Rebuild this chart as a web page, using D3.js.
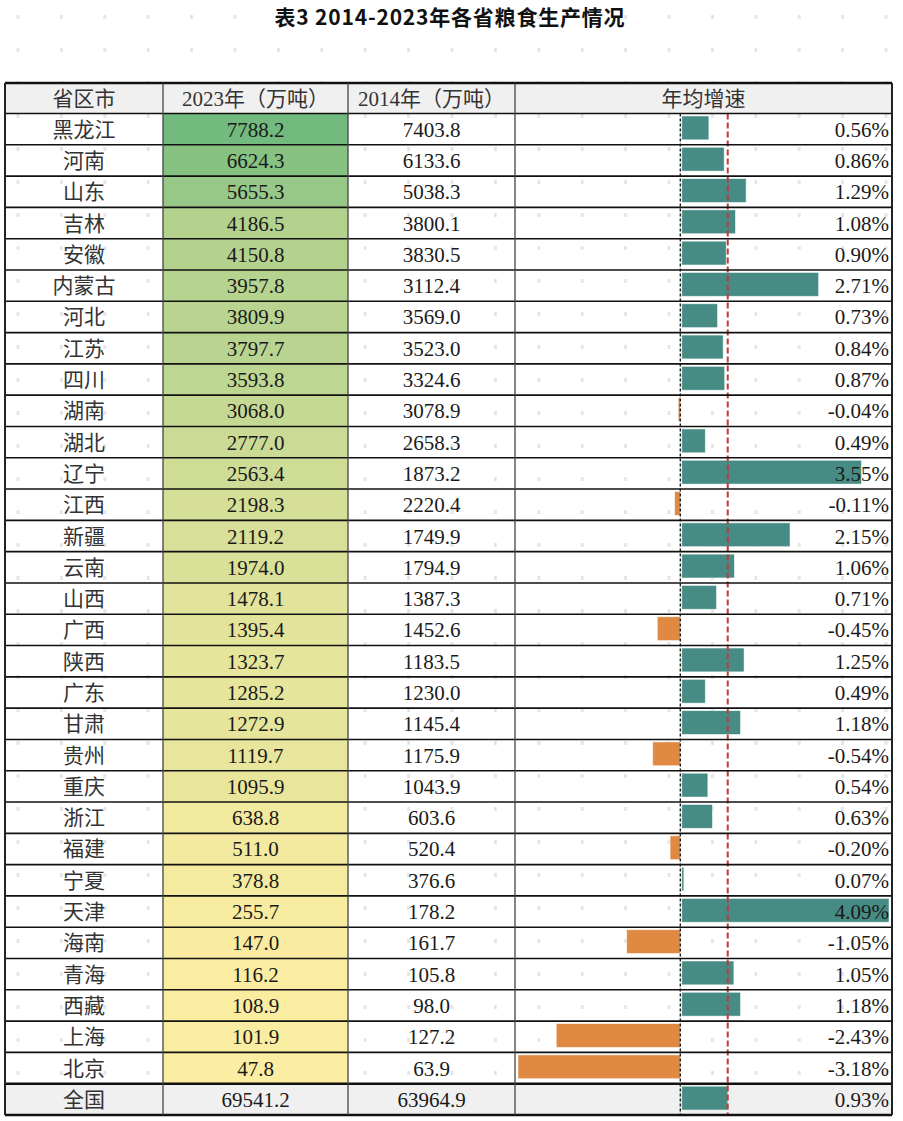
<!DOCTYPE html>
<html><head><meta charset="utf-8">
<script src="https://cdn.jsdelivr.net/npm/d3@7"></script>
<style>
body{margin:0;background:#fff;}
svg{display:block;}
</style></head>
<body>
<script>
const title = "表3 2014-2023年各省粮食生产情况";
const headers = ["省区市", "2023年（万吨）", "2014年（万吨）", "年均增速"];
const provinces = ["黑龙江","河南","山东","吉林","安徽","内蒙古","河北","江苏","四川","湖南","湖北","辽宁","江西","新疆","云南","山西","广西","陕西","广东","甘肃","贵州","重庆","浙江","福建","宁夏","天津","海南","青海","西藏","上海","北京"];
const output2023 = [7788.2,6624.3,5655.3,4186.5,4150.8,3957.8,3809.9,3797.7,3593.8,3068.0,2777.0,2563.4,2198.3,2119.2,1974.0,1478.1,1395.4,1323.7,1285.2,1272.9,1119.7,1095.9,638.8,511.0,378.8,255.7,147.0,116.2,108.9,101.9,47.8];
const output2014 = [7403.8,6133.6,5038.3,3800.1,3830.5,3112.4,3569.0,3523.0,3324.6,3078.9,2658.3,1873.2,2220.4,1749.9,1794.9,1387.3,1452.6,1183.5,1230.0,1145.4,1175.9,1043.9,603.6,520.4,376.6,178.2,161.7,105.8,98.0,127.2,63.9];
const growth = [0.56,0.86,1.29,1.08,0.90,2.71,0.73,0.84,0.87,-0.04,0.49,3.55,-0.11,2.15,1.06,0.71,-0.45,1.25,0.49,1.18,-0.54,0.54,0.63,-0.20,0.07,4.09,-1.05,1.05,1.18,-2.43,-3.18];
const nationalName = "全国";
const national2023 = 69541.2;
const national2014 = 63964.9;
const nationalGrowth = 0.93;

const W = 903, H = 1121;
const svg = d3.select("body").append("svg").attr("width", W).attr("height", H);

const colX = [5, 163, 348, 515, 892];
const tableTop = 83, headerH = 30.5;
const bodyTop = tableTop + headerH;
const nRows = provinces.length + 1;
const rowH = (1115 - bodyTop) / nRows;

const rows = provinces.map((p, i) => ({name: p, v23: output2023[i], v14: output2014[i], g: growth[i], national: false}));
rows.push({name: nationalName, v23: national2023, v14: national2014, g: nationalGrowth, national: true});

const y = d3.scaleBand().domain(d3.range(nRows)).range([bodyTop, bodyTop + rowH * nRows]).paddingInner(0);
const x = d3.scaleLinear().domain([d3.min(growth), d3.max(growth)]).range([518, 889]);
const color = d3.scaleLinear().domain([d3.min(output2023), d3.max(output2023)]).range(["#fbeda1", "#73ba7e"]);

const serif = "'Liberation Serif','Noto Sans CJK SC',serif";
const cjk = "'Noto Sans CJK SC',sans-serif";

// faint background watermark dots
const dotG = svg.append("g").attr("fill", "#e6e6e6");
for (let yy = 17; yy < H; yy += 33) {
  for (let xx = 18; xx < W; xx += 43.4) {
    dotG.append("rect").attr("x", xx - 1.5).attr("y", yy - 2).attr("width", 3).attr("height", 4);
  }
}

// Title
svg.append("text").attr("x", 450).attr("y", 25).attr("text-anchor", "middle")
  .attr("font-family", cjk).attr("font-weight", "bold").attr("font-size", 21).attr("letter-spacing", 0.8).attr("fill", "#111")
  .text(title);

// Header background
svg.append("rect").attr("x", colX[0]).attr("y", tableTop).attr("width", colX[4] - colX[0]).attr("height", headerH).attr("fill", "#f0f0f0");
// national row background
const natY = y(nRows - 1);
svg.append("rect").attr("x", colX[0]).attr("y", natY).attr("width", colX[4] - colX[0]).attr("height", rowH).attr("fill", "#f0f0f0");

// heat cells
svg.append("g").selectAll("rect").data(rows.filter(r => !r.national)).join("rect")
  .attr("x", colX[1]).attr("y", (d, i) => y(i)).attr("width", colX[2] - colX[1]).attr("height", rowH)
  .attr("fill", d => color(d.v23));

// bars
svg.append("g").selectAll("rect").data(rows).join("rect")
  .attr("x", d => d.g >= 0 ? x(0) + 1.5 : x(d.g))
  .attr("y", (d, i) => y(i) + 2.5)
  .attr("width", d => Math.max(2, Math.abs(x(d.g) - x(0)) - (d.g >= 0 ? 1.5 : 0)))
  .attr("height", rowH - 7.5)
  .attr("fill", d => d.g >= 0 ? "#468c84" : "#e08943")
  .attr("stroke", "#ffffff").attr("stroke-opacity", 0.6).attr("stroke-width", 0.8);

// zero line (dotted)
svg.append("line").attr("x1", x(0)).attr("x2", x(0)).attr("y1", bodyTop).attr("y2", bodyTop + rowH * nRows)
  .attr("stroke", "#111").attr("stroke-width", 1.3).attr("stroke-dasharray", "3,2");
// national average line (red dashed)
svg.append("line").attr("x1", x(nationalGrowth)).attr("x2", x(nationalGrowth)).attr("y1", bodyTop).attr("y2", bodyTop + rowH * nRows)
  .attr("stroke", "#c0393b").attr("stroke-width", 2).attr("stroke-dasharray", "6,3");

// grid lines
const grid = svg.append("g");
const hLines = [tableTop, bodyTop].concat(d3.range(1, nRows + 1).map(i => bodyTop + i * rowH));
grid.selectAll("line.h").data(hLines).join("line").attr("class", "h")
  .attr("x1", colX[0]).attr("x2", colX[4]).attr("y1", d => d).attr("y2", d => d)
  .attr("stroke", "#111").attr("stroke-width", (d, i) => (i === 0 || i === hLines.length - 1 || i === hLines.length - 2) ? 2.5 : 1.6);
grid.selectAll("line.v").data(colX).join("line").attr("class", "v")
  .attr("x1", d => d).attr("x2", d => d).attr("y1", tableTop).attr("y2", bodyTop + rowH * nRows)
  .attr("stroke", (d, i) => (i === 0 || i === colX.length - 1) ? "#222" : "#444")
  .attr("stroke-width", (d, i) => (i === 0 || i === colX.length - 1) ? 2 : 1.3);

// header text
const hdr = svg.append("g");
headers.forEach((h, i) => {
  hdr.append("text").attr("x", (colX[i] + colX[i + 1]) / 2).attr("y", tableTop + headerH / 2 + 7.5)
    .attr("text-anchor", "middle").attr("font-family", serif).attr("font-size", 21).attr("fill", "#333").text(h);
});

// body text
const body = svg.append("g").attr("font-family", serif).attr("font-size", 21).attr("fill", "#1a1a1a");
rows.forEach((r, i) => {
  const cy = y(i) + rowH / 2 + 7.5;
  body.append("text").attr("x", (colX[0] + colX[1]) / 2).attr("y", cy).attr("text-anchor", "middle").attr("fill", "#333").text(r.name);
  body.append("text").attr("x", (colX[1] + colX[2]) / 2).attr("y", cy).attr("text-anchor", "middle").text(r.v23.toFixed(1));
  body.append("text").attr("x", (colX[2] + colX[3]) / 2).attr("y", cy).attr("text-anchor", "middle").text(r.v14.toFixed(1));
  body.append("text").attr("x", 889).attr("y", cy).attr("text-anchor", "end").text(r.g.toFixed(2) + "%");
});
</script>
</body></html>
